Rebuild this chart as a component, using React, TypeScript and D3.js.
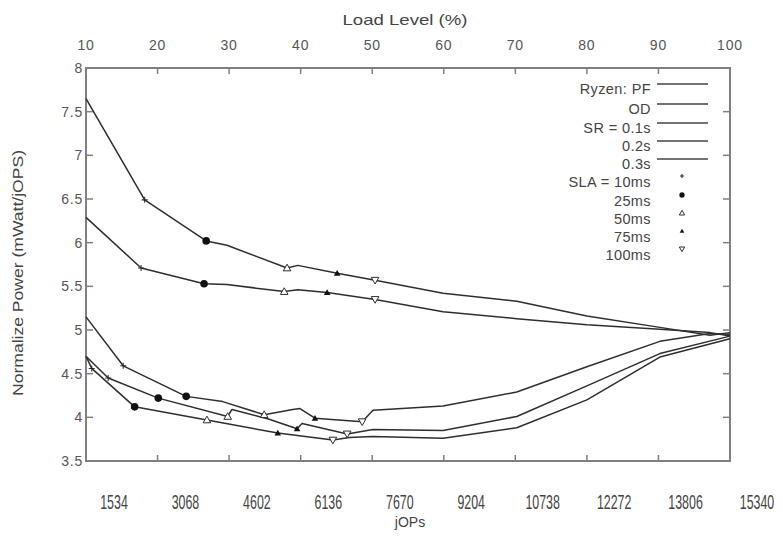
import * as d3 from "d3";
import React from "react";

// axis ticks
const loadTicks = [10, 20, 30, 40, 50, 60, 70, 80, 90, 100];
const powerTicks = [3.5, 4, 4.5, 5, 5.5, 6, 6.5, 7, 7.5, 8];
const jopsTicks = [1534, 3068, 4602, 6136, 7670, 9204, 10738, 12272, 13806, 15340];

// series: load level (%) and normalized power
const pfLoad = [10, 18.2, 26.8, 29.7, 38.1, 39.6, 45.1, 50.4, 59.9, 70.2, 80, 90.2, 97.2, 100];
const pfPower = [7.65, 6.49, 6.02, 5.97, 5.71, 5.74, 5.65, 5.57, 5.42, 5.33, 5.16, 5.03, 4.94, 4.97];

const odLoad = [10, 17.7, 26.5, 29.7, 37.7, 39.6, 43.7, 50.4, 59.9, 70.2, 80, 90.2, 97.2, 100];
const odPower = [6.29, 5.71, 5.53, 5.52, 5.44, 5.46, 5.43, 5.35, 5.21, 5.13, 5.06, 5.01, 4.97, 4.93];

const sr01Load = [10, 15.2, 24.0, 29.1, 34.9, 38.9, 39.9, 42.0, 48.6, 50.1, 59.9, 70.2, 80, 90.2, 97.2, 100];
const sr01Power = [5.15, 4.59, 4.24, 4.18, 4.03, 4.09, 4.1, 3.99, 3.95, 4.08, 4.13, 4.29, 4.58, 4.87, 4.96, 4.95];

const sr02Load = [10, 13.1, 20.1, 29.8, 30.4, 35.5, 39.5, 40.2, 46.5, 50.1, 59.9, 70.2, 80, 90.2, 100];
const sr02Power = [4.7, 4.45, 4.22, 4.01, 4.09, 3.98, 3.87, 3.93, 3.81, 3.86, 3.85, 4.01, 4.36, 4.73, 4.93];

const sr03Load = [10, 10.8, 16.8, 26.9, 36.8, 44.5, 46.8, 50.1, 59.9, 70.2, 80, 90.2, 100];
const sr03Power = [4.7, 4.56, 4.12, 3.97, 3.82, 3.74, 3.77, 3.78, 3.76, 3.88, 4.2, 4.69, 4.9];

// SLA points (one per series: PF, OD, SR 0.1s, 0.2s, 0.3s)
const sla10Load = [18.2, 17.7, 15.2, 13.1, 10.8];
const sla10Power = [6.49, 5.71, 4.59, 4.45, 4.56];
const sla25Load = [26.8, 26.5, 24.0, 20.1, 16.8];
const sla25Power = [6.02, 5.53, 4.24, 4.22, 4.12];
const sla50Load = [38.1, 37.7, 34.9, 29.8, 26.9];
const sla50Power = [5.71, 5.44, 4.03, 4.01, 3.97];
const sla75Load = [45.1, 43.7, 42.0, 39.5, 36.8];
const sla75Power = [5.65, 5.43, 3.99, 3.87, 3.82];
const sla100Load = [50.4, 50.4, 48.6, 46.5, 44.5];
const sla100Power = [5.57, 5.35, 3.95, 3.81, 3.74];

const lineLabels = ["Ryzen: PF", "OD", "SR = 0.1s", "0.2s", "0.3s"];
const slaLabels = ["SLA = 10ms", "25ms", "50ms", "75ms", "100ms"];

const INK = "#2e2e2e";
const AXIS = "#808080";
const FONT = "'Liberation Sans', Arial, sans-serif";

function Marker({ kind, x, y, s = 1 }: { kind: string; x: number; y: number; s?: number }) {
  if (kind === "plus") {
    const a = 3 * s;
    return <path d={`M${x - a},${y}H${x + a}M${x},${y - a}V${y + a}`} stroke={INK} strokeWidth={1.1} fill="none" />;
  }
  if (kind === "circle") {
    return <circle cx={x} cy={y} r={3.8 * s} fill="#111" />;
  }
  if (kind === "tri") {
    const a = 3.8 * s;
    return (
      <path d={`M${x},${y - a}L${x + a},${y + a * 0.75}L${x - a},${y + a * 0.75}Z`} fill="#fff" stroke={INK} strokeWidth={1} />
    );
  }
  if (kind === "filltri") {
    const a = 3.3 * s;
    return <path d={`M${x},${y - a}L${x + a},${y + a * 0.75}L${x - a},${y + a * 0.75}Z`} fill="#111" />;
  }
  const a = 3.8 * s;
  return (
    <path d={`M${x},${y + a}L${x + a},${y - a * 0.75}L${x - a},${y - a * 0.75}Z`} fill="#fff" stroke={INK} strokeWidth={1} />
  );
}

export default function App() {
  const left = 86, right = 730, top = 68, bottom = 461;
  const x = d3.scaleLinear().domain([10, 100]).range([left, right]);
  const y = d3.scaleLinear().domain([3.5, 8]).range([bottom, top]);
  const xj = d3.scaleLinear().domain([1534, 15340]).range([114, 757]);

  const line = d3
    .line<[number, number]>()
    .x((d) => x(d[0]))
    .y((d) => y(d[1]));

  const series = [
    [pfLoad, pfPower],
    [odLoad, odPower],
    [sr01Load, sr01Power],
    [sr02Load, sr02Power],
    [sr03Load, sr03Power],
  ];

  const markerSets = [
    { kind: "plus", load: sla10Load, power: sla10Power },
    { kind: "circle", load: sla25Load, power: sla25Power },
    { kind: "tri", load: sla50Load, power: sla50Power },
    { kind: "filltri", load: sla75Load, power: sla75Power },
    { kind: "invtri", load: sla100Load, power: sla100Power },
  ];

  const lineLegendY = [89, 109, 128, 146, 164];
  const slaLegendY = [182, 201, 219, 237, 255];

  return (
    <svg width={783} height={538} style={{ position: "absolute", left: 0, top: 0, background: "#fff" }}>
      {/* titles */}
      <text x={405} y={25} textAnchor="middle" fontFamily={FONT} fontSize={15} fill="#444" textLength={125} lengthAdjust="spacingAndGlyphs">
        Load Level (%)
      </text>
      <text
        transform={`translate(23, 273) rotate(-90)`}
        textAnchor="middle"
        fontFamily={FONT}
        fontSize={14}
        fill="#444"
        textLength={246}
        lengthAdjust="spacingAndGlyphs"
      >
        Normalize Power (mWatt/jOPS)
      </text>
      <text x={410} y={527} textAnchor="middle" fontFamily={FONT} fontSize={14} fill="#444">
        jOPs
      </text>

      {/* top axis labels */}
      {loadTicks.map((t) => (
        <text key={`lt-${t}`} x={x(t)} y={50} textAnchor="middle" fontFamily={FONT} fontSize={14} fill="#555" letterSpacing={0.8}>
          {t}
        </text>
      ))}

      {/* y axis labels */}
      {powerTicks.map((t) => (
        <text key={`yt-${t}`} x={83} y={y(t) + 5} textAnchor="end" fontFamily={FONT} fontSize={14} fill="#555" letterSpacing={0.8}>
          {t}
        </text>
      ))}

      {/* bottom jOPs labels */}
      {jopsTicks.map((t) => (
        <text
          key={`jt-${t}`}
          transform={`translate(${xj(t)}, 509) scale(0.62, 1)`}
          textAnchor="middle"
          fontFamily={FONT}
          fontSize={20}
          fill="#444"
        >
          {t}
        </text>
      ))}

      {/* frame */}
      <rect x={left} y={top} width={right - left} height={bottom - top} fill="none" stroke={AXIS} strokeWidth={2} />
      {loadTicks.slice(1, -1).map((t) => (
        <g key={`xt-${t}`} stroke={AXIS} strokeWidth={1.5}>
          <line x1={x(t)} x2={x(t)} y1={top} y2={top + 6} />
          <line x1={x(t)} x2={x(t)} y1={bottom} y2={bottom - 6} />
        </g>
      ))}
      {powerTicks.slice(1, -1).map((t) => (
        <g key={`ytk-${t}`} stroke={AXIS} strokeWidth={1.5}>
          <line x1={left} x2={left + 7} y1={y(t)} y2={y(t)} />
          <line x1={right} x2={right - 7} y1={y(t)} y2={y(t)} />
        </g>
      ))}

      {/* series */}
      {series.map(([ls, ps], i) => (
        <path
          key={`s-${i}`}
          d={line(ls.map((l, j) => [l, ps[j]] as [number, number])) || ""}
          fill="none"
          stroke={INK}
          strokeWidth={1.5}
          strokeLinejoin="round"
        />
      ))}

      {/* SLA markers */}
      {markerSets.map((m, i) =>
        m.load.map((l, j) => <Marker key={`m-${i}-${j}`} kind={m.kind} x={x(l)} y={y(m.power[j])} />)
      )}

      {/* legend */}
      {lineLabels.map((lab, i) => (
        <g key={`ll-${i}`}>
          <text x={651} y={lineLegendY[i] + 5} textAnchor="end" fontFamily={FONT} fontSize={14.5} fill="#444" letterSpacing={0.4}>
            {lab}
          </text>
          <line x1={657} x2={708} y1={lineLegendY[i] - 5} y2={lineLegendY[i] - 5} stroke="#444" strokeWidth={1.3} />
        </g>
      ))}
      {slaLegendY.map((ly, i) => (
        <g key={`sl-${i}`}>
          <text x={651} y={ly + 5} textAnchor="end" fontFamily={FONT} fontSize={14.5} fill="#444" letterSpacing={0.4}>
            {slaLabels[i]}
          </text>
          <Marker kind={markerSets[i].kind} x={682} y={ly - 6} s={0.7} />
        </g>
      ))}
    </svg>
  );
}
